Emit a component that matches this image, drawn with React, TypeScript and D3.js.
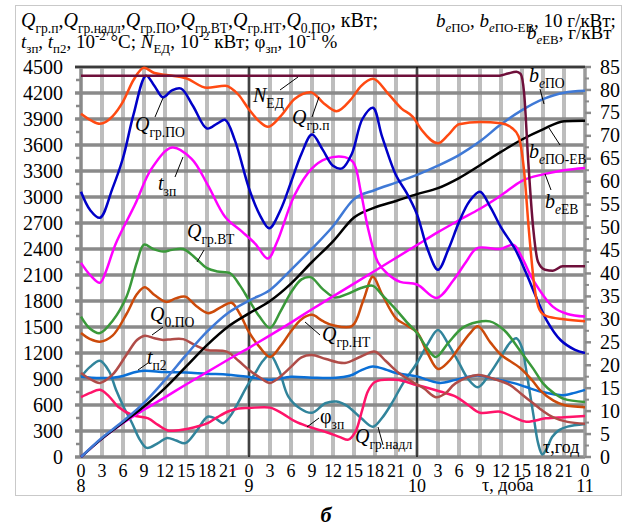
import React from "react"
import * as d3 from "d3"

const W = 625
const H = 529
const PLOT = { left: 81, right: 585, top: 67, bottom: 457 }
const SERIF = "'Liberation Serif', 'Times New Roman', serif"

const hourTicks = [0, 3, 6, 9, 12, 15, 18, 21, 24, 27, 30, 33, 36, 39, 42, 45, 48, 51, 54, 57, 60, 63, 66, 69, 72]
const hourLabels = ["0", "3", "6", "9", "12", "15", "18", "21", "0", "3", "6", "9", "12", "15", "18", "21", "0", "3", "6", "9", "12", "15", "18", "21", "0"]
const dayTicks = [0, 24, 48, 72]
const dayLabels = ["8", "9", "10", "11"]
const leftTicks = [0, 300, 600, 900, 1200, 1500, 1800, 2100, 2400, 2700, 3000, 3300, 3600, 3900, 4200, 4500]
const rightTicks = [0, 5, 10, 15, 20, 25, 30, 35, 40, 45, 50, 55, 60, 65, 70, 75, 80, 85]

// left axis series: [hour, value]
const nEd = [[0, 4400], [59.8, 4400], [61, 4425], [62.2, 4445], [62.8, 4420], [63.3, 4200], [63.9, 3400], [64.6, 2640], [65.3, 2250], [66.3, 2160], [67.4, 2150], [68.8, 2200], [72, 2200]]
const qGrP = [[0, 3960], [1.5, 3880], [2.7, 3845], [4.5, 3930], [6, 4100], [7.5, 4350], [9, 4490], [10.5, 4430], [12.5, 4405], [15, 4370], [18, 4260], [20.6, 4285], [22.5, 4180], [24, 4010], [25.5, 3870], [26.7, 3810], [28.5, 3930], [30.5, 4130], [32.8, 4210], [34.7, 4080], [36.5, 3990], [38.5, 4120], [40, 4280], [41.7, 4365], [44, 4180], [45.8, 4020], [47.4, 3925], [48.7, 3770], [51, 3620], [52.5, 3720], [54, 3840], [57, 3865], [60, 3850], [61.5, 3800], [62.5, 3700], [63.3, 3300], [64, 2600], [64.8, 1950], [65.5, 1700], [66.5, 1625], [69, 1590], [72, 1565]]
const qGrPO = [[0, 3060], [1.3, 2850], [2.7, 2760], [4.5, 3100], [6, 3450], [7.5, 3950], [9.3, 4400], [10.5, 4280], [11.7, 4150], [13, 4230], [14.3, 4250], [16, 4050], [18, 3790], [19.5, 3850], [20.6, 3890], [22, 3650], [24, 3100], [25.5, 2800], [26.9, 2640], [28.5, 2850], [30, 3170], [31.5, 3500], [33, 3720], [34.5, 3550], [36, 3360], [37.3, 3330], [38.7, 3500], [40.2, 3900], [41.7, 4030], [43, 3700], [45, 3250], [46.5, 3050], [48, 2800], [49.5, 2400], [51, 2160], [52.5, 2400], [54, 2710], [55.5, 2950], [57, 3060], [58.5, 2880], [60, 2650], [62, 2400], [63.6, 2120], [65, 1850], [66.5, 1580], [68.5, 1350], [70.5, 1240], [72, 1200]]
const tZp = [[0, 2240], [1.3, 2100], [2.7, 2010], [3.6, 2150], [4.9, 2450], [7.7, 2910], [10.1, 3330], [13, 3570], [15.8, 3440], [18.1, 3140], [20.6, 2770], [23, 2600], [24.9, 2460], [26.7, 2290], [28, 2480], [30.5, 3020], [33, 3330], [35, 3440], [37.7, 3460], [38.9, 3400], [40, 3050], [41, 2640], [42.4, 2250], [43.7, 2120], [45.6, 2020], [48, 1990], [50.8, 1835], [53.2, 2040], [55, 2250], [56.6, 2410], [59.9, 2400], [61.8, 2446], [63, 2300], [64.6, 2040], [67.4, 1735], [69.5, 1650], [72, 1620]]
const qGrVT = [[0, 1620], [1.3, 1480], [2.7, 1430], [4.5, 1570], [6.5, 1850], [8, 2250], [9, 2450], [10.3, 2400], [11.7, 2370], [13, 2390], [14.6, 2400], [16.3, 2300], [18, 2180], [19.5, 2140], [21.3, 2120], [22.7, 1980], [24, 1810], [25.5, 1620], [27, 1490], [28.5, 1680], [30, 1900], [31.5, 2050], [32.8, 2075], [34.5, 1940], [36.3, 1840], [38, 1880], [40, 1950], [41.7, 1975], [43, 1870], [45, 1700], [46.5, 1560], [48, 1430], [49.5, 1250], [50.7, 1155], [52.5, 1320], [54.5, 1490], [56.5, 1555], [58.4, 1565], [60.5, 1460], [62.7, 1230], [64.6, 1020], [66, 850], [67.5, 740], [69, 670], [72, 635]]
const qGrNT = [[0, 1430], [1.3, 1360], [2.7, 1330], [4.5, 1400], [6.5, 1650], [8, 1880], [9.1, 1960], [10.5, 1870], [12.2, 1790], [13.5, 1830], [14.9, 1850], [16.5, 1740], [18.2, 1660], [20, 1730], [21.5, 1780], [22.7, 1650], [24, 1440], [25.5, 1270], [27, 1155], [28.5, 1280], [30, 1450], [31.5, 1590], [33, 1640], [34.5, 1570], [36, 1520], [38.7, 1510], [40.3, 1800], [41.7, 2080], [43, 1880], [45, 1600], [46.5, 1520], [48, 1440], [49.5, 1200], [51, 1016], [52.5, 1100], [54, 1260], [55.5, 1420], [56.7, 1510], [58.5, 1320], [60, 1180], [62.7, 1030], [64.5, 880], [65.6, 770], [67.5, 650], [69, 600], [72, 575]]
const q0PO = [[0, 970], [1.3, 900], [2.7, 855], [4.5, 950], [6.5, 1180], [8, 1350], [9.1, 1400], [10.5, 1370], [11.7, 1350], [13, 1360], [14.6, 1360], [16.3, 1290], [18, 1235], [20.8, 1215], [22.5, 1110], [24, 1005], [25.5, 920], [27, 855], [28.5, 930], [30, 1040], [31.5, 1150], [33, 1177], [35, 1130], [37.7, 1085], [40, 1160], [42, 1215], [43.5, 1110], [45.3, 975], [47.5, 860], [49, 790], [50.7, 690], [52, 730], [53.5, 850], [56.7, 946], [59, 900], [61.3, 830], [63, 720], [64.6, 620], [66, 530], [67.4, 460], [69.5, 405], [72, 385]]
const tP2 = [[0, 925], [1.5, 915], [3, 912], [4.5, 915], [6, 935], [7.5, 975], [9, 995], [12, 980], [15, 975], [18, 960], [21, 950], [24, 923], [27, 890], [30, 926], [33, 915], [36, 912], [38.5, 940], [40, 1000], [41.7, 1045], [43.5, 1010], [45, 970], [48, 930], [49.5, 890], [51.3, 855], [53.5, 890], [56.7, 940], [59, 900], [61.7, 855], [63.5, 810], [65.6, 755], [67.5, 725], [68.9, 712], [70.5, 740], [72, 775]]
const phiZp = [[0, 690], [1.3, 740], [2.7, 775], [4, 700], [5.3, 580], [7.3, 485], [9.6, 445], [11, 370], [12.4, 305], [14, 310], [15.3, 325], [17, 360], [18.1, 390], [19.5, 460], [21, 525], [22.5, 560], [24, 565], [27, 570], [28.8, 500], [30.6, 410], [32.5, 350], [35.3, 280], [37, 230], [38.2, 200], [39.2, 290], [40.2, 550], [41, 760], [42, 865], [45, 890], [48, 830], [51.3, 755], [53.6, 695], [55.3, 600], [57, 510], [59.9, 523], [61.8, 460], [63.6, 407], [66.4, 446], [69, 460], [72, 473]]
const qGrNadl = [[0, 925], [1.3, 1040], [2.7, 1110], [4, 990], [5, 775], [6.2, 560], [7.3, 390], [8.4, 200], [9.4, 105], [11, 160], [12.3, 220], [13.6, 190], [14.9, 160], [16.5, 300], [18.1, 465], [19.3, 440], [20.3, 390], [21.3, 470], [22.4, 620], [23.6, 800], [24.9, 970], [26, 1110], [27, 1180], [28.3, 1000], [29.6, 700], [31.3, 560], [33, 510], [34.9, 620], [36.5, 640], [38, 590], [40, 450], [41.7, 350], [43, 450], [44.4, 620], [46, 850], [48, 1085], [49.5, 1300], [51, 1466], [52.5, 1300], [54, 1085], [55.3, 900], [56.7, 805], [58.3, 950], [60, 1160], [61.3, 1320], [62.2, 1370], [63, 1260], [63.6, 1000], [64.6, 500], [65.3, 160], [65.9, 30], [66.5, 90], [67.3, 230], [68.3, 310], [69.5, 350], [72, 380]]

// right axis series
const bePO = [[0, 0], [3, 4.2], [6, 7.8], [9, 11.8], [12, 16.8], [15, 22.2], [18, 27.3], [21, 31.4], [24, 34.1], [27, 36.4], [30, 40.8], [33, 45.4], [36, 50.3], [39, 56.2], [42, 58.2], [45, 59.8], [48, 61.5], [51, 63.5], [54, 65.8], [57, 68.8], [60, 72.5], [63, 75.6], [66, 78], [69, 79.4], [72, 79.8]]
const bePOEV = [[0, 0], [3, 4], [6, 7.5], [9, 11], [12, 15], [15, 19.7], [18, 24.4], [21, 28.4], [24, 31.3], [27, 34], [30, 37.8], [33, 42.5], [36, 47], [39, 52.2], [42, 54.4], [45, 55.8], [48, 57.3], [51, 58.6], [54, 60.8], [57, 63.6], [60, 66.5], [63, 69.2], [66, 71.4], [69, 73.2], [72, 73.3]]
const beEV = [[0, 0], [3, 4], [6, 7.4], [9, 10.3], [12, 13], [15, 15.8], [18, 18.5], [21, 21.2], [24, 23.8], [27, 26.5], [30, 29.3], [33, 32.2], [36, 35], [39, 37.8], [42, 40.6], [45, 43.4], [48, 46.2], [51, 49], [54, 51.6], [57, 54.1], [60, 57], [63, 60.2], [66, 61.6], [69, 62.5], [72, 63]]

const x = d3.scaleLinear().domain([0, 72]).range([PLOT.left, PLOT.right])
const yL = d3.scaleLinear().domain([0, 4500]).range([PLOT.bottom, PLOT.top])
const yR = d3.scaleLinear().domain([0, 85]).range([PLOT.bottom, PLOT.top])

const smooth = d3.curveCatmullRom.alpha(0.5)
const mono = d3.curveMonotoneX

const series = [
  { data: qGrNadl, color: "#31849b", axis: "L", curve: smooth },
  { data: phiZp, color: "#ff1469", axis: "L", curve: smooth },
  { data: tP2, color: "#0a6fd6", axis: "L", curve: smooth },
  { data: q0PO, color: "#b04c48", axis: "L", curve: smooth },
  { data: qGrNT, color: "#cc4a0a", axis: "L", curve: smooth },
  { data: qGrVT, color: "#3a993a", axis: "L", curve: smooth },
  { data: beEV, color: "#ff00ff", axis: "R", curve: mono },
  { data: bePOEV, color: "#000000", axis: "R", curve: mono },
  { data: bePO, color: "#3f79d6", axis: "R", curve: mono },
  { data: tZp, color: "#ff00ff", axis: "L", curve: smooth },
  { data: qGrPO, color: "#0000c8", axis: "L", curve: smooth },
  { data: qGrP, color: "#ff4a12", axis: "L", curve: mono },
  { data: nEd, color: "#6e0f3a", axis: "L", curve: mono },
]

type Part = { t: string; sub?: boolean; sup?: boolean; it?: boolean }

function Rich({ x: px, y: py, parts, size = 20 }: { x: number; y: number; parts: Part[]; size?: number }) {
  let cur = 0
  return (
    <text x={px} y={py} fontSize={size} fontFamily={SERIF} fill="#000">
      {parts.map((p, i) => {
        const off = p.sub ? size * 0.28 : p.sup ? -size * 0.4 : 0
        const dy = off - cur
        cur = off
        return (
          <tspan key={i} dy={dy} fontSize={p.sub || p.sup ? size * 0.68 : size} fontStyle={p.it ? "italic" : "normal"}>
            {p.t}
          </tspan>
        )
      })}
    </text>
  )
}

const I = (t: string): Part => ({ t, it: true })
const N = (t: string): Part => ({ t })
const S = (t: string): Part => ({ t, sub: true })
const SI = (t: string): Part => ({ t, sub: true, it: true })
const P = (t: string): Part => ({ t, sup: true })

const header1: Part[] = [I("Q"), S("гр.п"), N(","), I("Q"), S("гр.надл"), N(","), I("Q"), S("гр.ПО"), N(","), I("Q"), S("гр.ВТ"), N(","), I("Q"), S("гр.НТ"), N(","), I("Q"), S("0.ПО"), N(", кВт;")]
const header2: Part[] = [I("t"), S("зп"), N(", "), I("t"), S("п2"), N(", 10"), P("-2"), N(" °C; "), I("N"), S("ЕД"), N(", 10"), P("-2"), N(" кВт; φ"), S("зп"), N(", 10"), P("-1"), N(" %")]
const header3: Part[] = [I("b"), SI("e"), S("ПО"), N(", "), I("b"), SI("e"), S("ПО-ЕВ"), N(", 10 г/кВт;")]
const header4: Part[] = [I("b"), SI("e"), S("ЕВ"), N(", г/кВт")]

const labels: { x: number; y: number; parts: Part[] }[] = [
  { x: 135, y: 131, parts: [I("Q"), S("гр.ПО")] },
  { x: 158, y: 190, parts: [I("t"), S("зп")] },
  { x: 187, y: 238, parts: [I("Q"), S("гр.ВТ")] },
  { x: 253, y: 102, parts: [I("N"), S("ЕД")] },
  { x: 292, y: 124, parts: [I("Q"), S("гр.п")] },
  { x: 529, y: 82, parts: [I("b"), SI("e"), S("ПО")] },
  { x: 529, y: 158, parts: [I("b"), SI("e"), S("ПО-ЕВ")] },
  { x: 545, y: 208, parts: [I("b"), SI("e"), S("ЕВ")] },
  { x: 150, y: 321, parts: [I("Q"), S("0.ПО")] },
  { x: 147, y: 364, parts: [I("t"), S("п2")] },
  { x: 322, y: 341, parts: [I("Q"), S("гр.НТ")] },
  { x: 320, y: 423, parts: [N("φ"), S("зп")] },
  { x: 355, y: 443, parts: [I("Q"), S("гр.надл")] },
]

const leaders = [
  [155, 117, 163, 98],
  [175, 177, 183, 157],
  [197, 262, 204, 250],
  [280, 90, 298, 77],
  [312, 117, 319, 97],
  [540, 89, 544, 104],
  [549, 128, 560, 145],
  [545, 174, 551, 190],
  [152, 335, 163, 327],
  [138, 370, 148, 363],
  [305, 322, 320, 335],
  [307, 427, 319, 418],
  [378, 427, 383, 445],
]

export default function App() {
  const minorLeft = d3.range(150, 4500, 300)
  const minorRight = d3.range(2.5, 85, 5)
  return (
    <svg width={W} height={H} style={{ position: "absolute", left: 0, top: 0, background: "#fff" }}>
      <rect x={0} y={0} width={W} height={H} fill="#fff" />
      <rect x={15.5} y={5.5} width={606} height={490} fill="none" stroke="#c9c9c9" strokeWidth={1} />

      {/* vertical grid */}
      {hourTicks.slice(1, -1).map(h => (
        <line key={"v" + h} x1={x(h)} x2={x(h)} y1={PLOT.top} y2={PLOT.bottom} stroke="#bdbdbd" strokeWidth={4} />
      ))}
      {/* horizontal grid */}
      {leftTicks.map(v => (
        <line key={"h" + v} x1={PLOT.left - 6} x2={PLOT.right} y1={yL(v)} y2={yL(v)} stroke="#8a8a8a" strokeWidth={3.5} />
      ))}
      {minorLeft.map(v => (
        <line key={"ml" + v} x1={PLOT.left - 5} x2={PLOT.left} y1={yL(v)} y2={yL(v)} stroke="#8a8a8a" strokeWidth={2.5} />
      ))}
      <line x1={PLOT.left} x2={PLOT.left} y1={PLOT.top} y2={PLOT.bottom} stroke="#8a8a8a" strokeWidth={3.5} />
      <line x1={PLOT.right} x2={PLOT.right} y1={PLOT.top} y2={PLOT.bottom} stroke="#9a9a9a" strokeWidth={3.5} />
      {rightTicks.map(v => (
        <line key={"rt" + v} x1={PLOT.right} x2={PLOT.right + 6} y1={yR(v)} y2={yR(v)} stroke="#8a8a8a" strokeWidth={2.5} />
      ))}
      {minorRight.map(v => (
        <line key={"mr" + v} x1={PLOT.right} x2={PLOT.right + 4} y1={yR(v)} y2={yR(v)} stroke="#8a8a8a" strokeWidth={2} />
      ))}
      <line x1={PLOT.left - 6} x2={PLOT.right} y1={PLOT.top} y2={PLOT.top} stroke="#3a3a3a" strokeWidth={2} />
      {dayTicks.slice(1, -1).map(h => (
        <line key={"d" + h} x1={x(h)} x2={x(h)} y1={PLOT.top} y2={PLOT.bottom} stroke="#000" strokeWidth={1.3} />
      ))}

      {/* data */}
      {series.map((s, i) => {
        const yy = s.axis === "L" ? yL : yR
        const path = d3
          .line<number[]>()
          .x(d => x(d[0]))
          .y(d => yy(d[1]))
          .curve(s.curve)(s.data)
        return <path key={i} d={path || ""} fill="none" stroke={s.color} strokeWidth={2.5} strokeLinejoin="round" />
      })}

      {/* axes labels */}
      {leftTicks.map(v => (
        <text key={"lt" + v} x={63} y={yL(v)} dy="0.33em" textAnchor="end" fontSize={20} fontFamily={SERIF}>
          {v}
        </text>
      ))}
      {rightTicks.map(v => (
        <text key={"rl" + v} x={600} y={yR(v)} dy="0.33em" textAnchor="start" fontSize={20} fontFamily={SERIF}>
          {v}
        </text>
      ))}
      {hourTicks.map((h, i) => (
        <text key={"ht" + h} x={x(h)} y={477} textAnchor="middle" fontSize={18} fontFamily={SERIF}>
          {hourLabels[i]}
        </text>
      ))}
      {dayTicks.map((h, i) => (
        <text key={"dt" + h} x={x(h)} y={492} textAnchor="middle" fontSize={18} fontFamily={SERIF}>
          {dayLabels[i]}
        </text>
      ))}
      <text x={482} y={491} fontSize={18} fontFamily={SERIF}>τ, доба</text>
      <text x={543} y={453} fontSize={18} fontFamily={SERIF}>τ,год</text>

      {/* series labels */}
      {leaders.map((l, i) => (
        <line key={"ld" + i} x1={l[0]} y1={l[1]} x2={l[2]} y2={l[3]} stroke="#000" strokeWidth={1} />
      ))}
      {labels.map((l, i) => (
        <Rich key={"lb" + i} x={l.x} y={l.y} parts={l.parts} />
      ))}

      <Rich x={21} y={27} parts={header1} />
      <Rich x={21} y={48} parts={header2} size={19} />
      <Rich x={436} y={27} parts={header3} size={19} />
      <Rich x={527} y={39} parts={header4} size={19} />

      <text x={326} y={522} textAnchor="middle" fontSize={22} fontWeight="bold" fontStyle="italic" fontFamily={SERIF}>
        б
      </text>
    </svg>
  )
}
